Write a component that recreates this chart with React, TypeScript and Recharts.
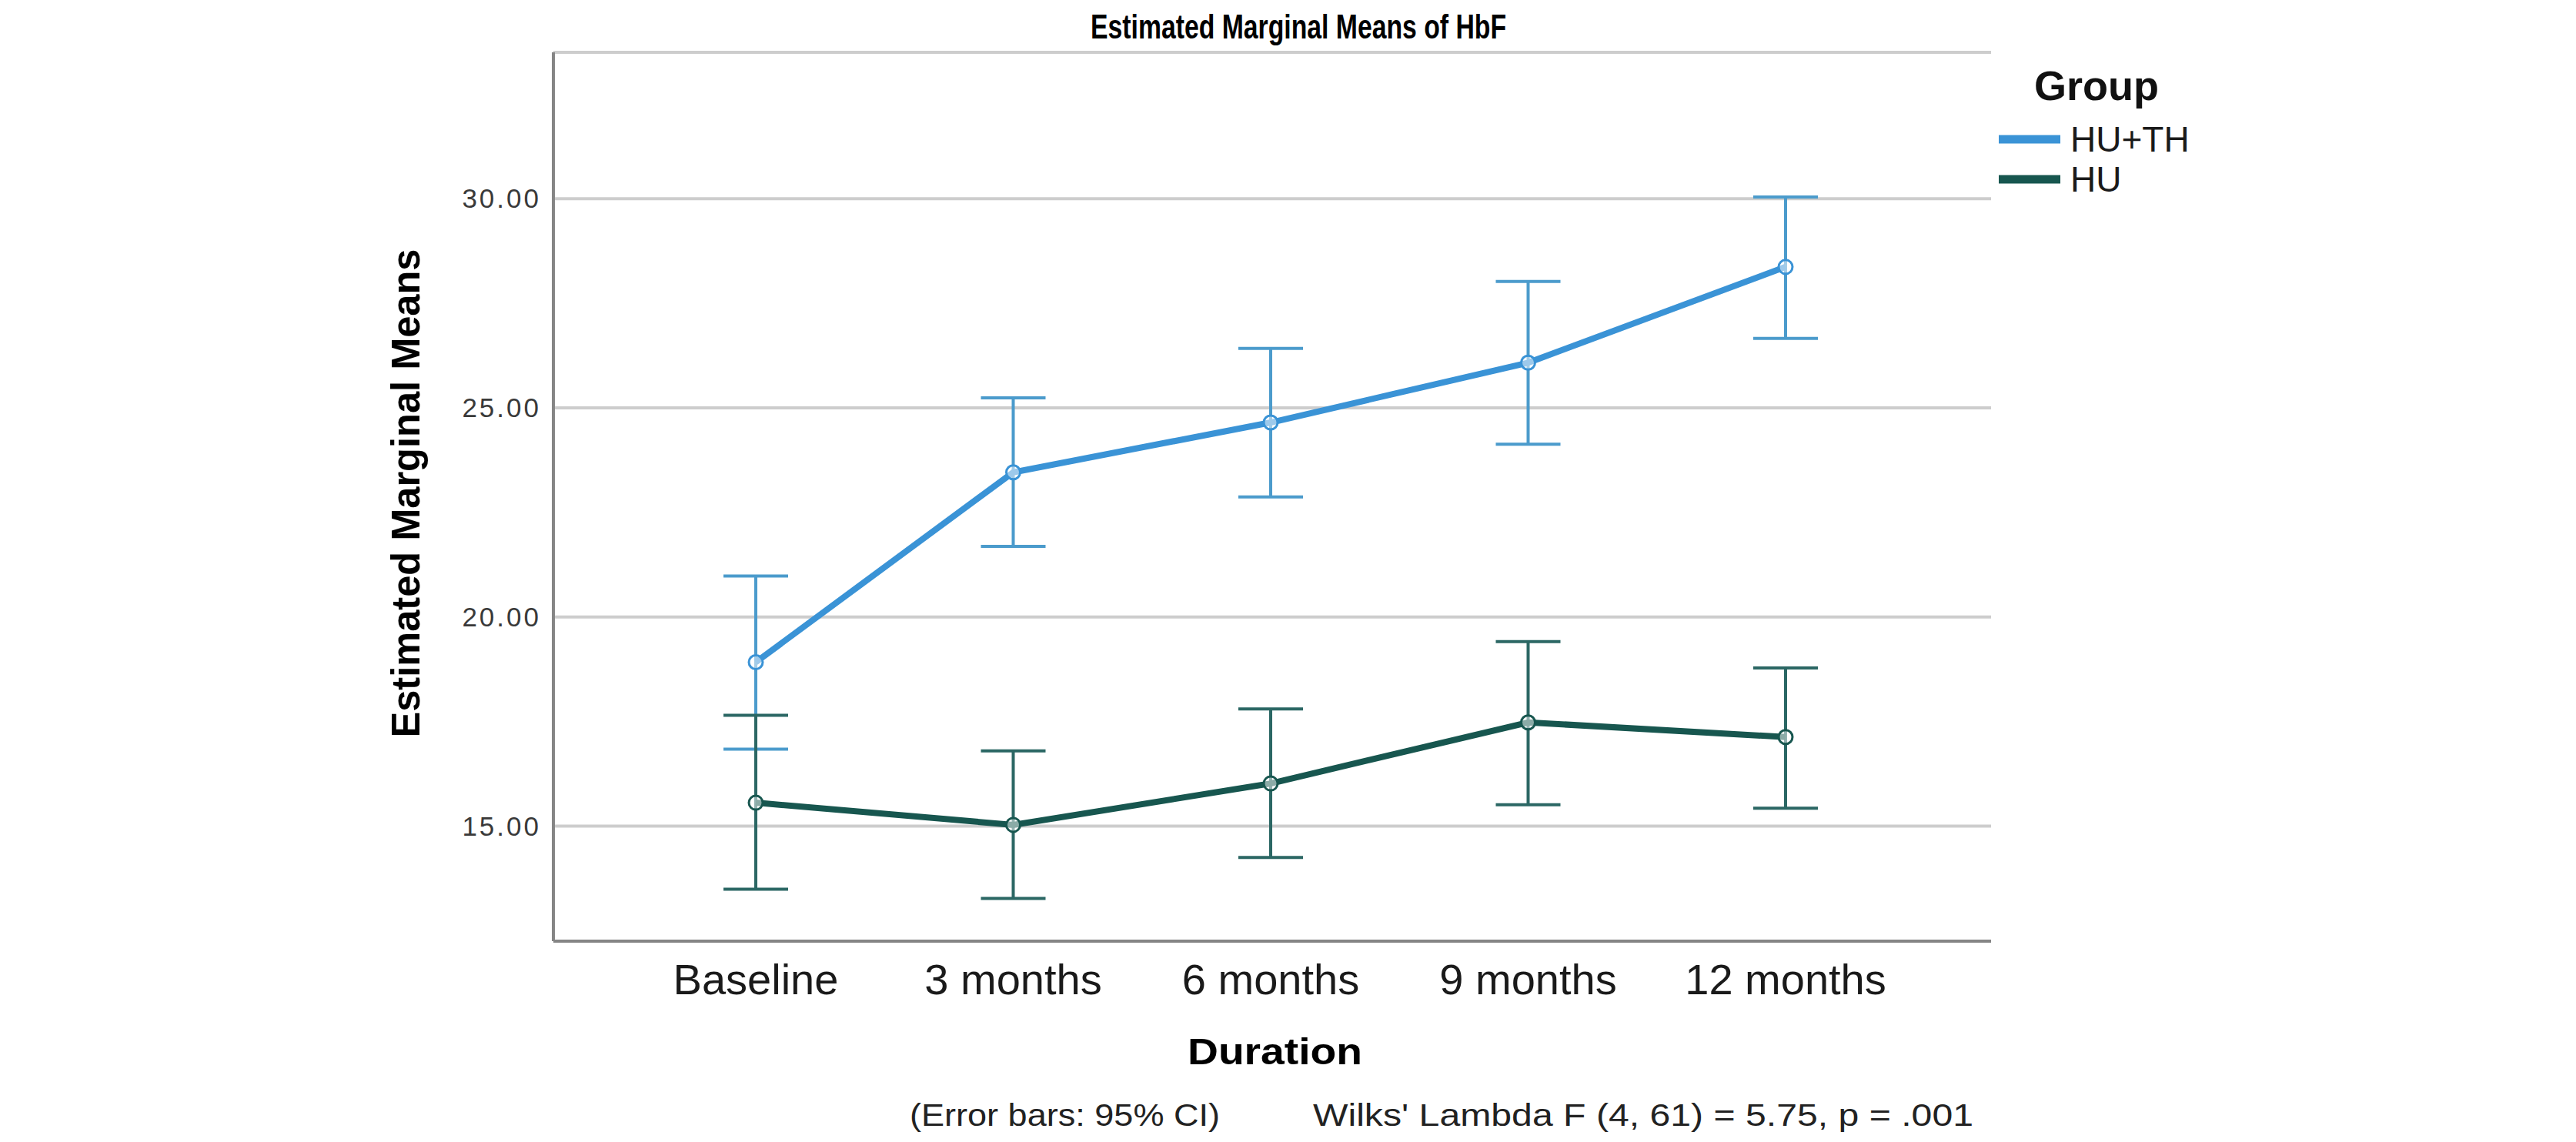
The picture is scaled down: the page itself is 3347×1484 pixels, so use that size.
import React from "react";
import {
  LineChart,
  Line,
  XAxis,
  YAxis,
  CartesianGrid,
  ErrorBar,
  Legend,
} from "recharts";

const categories = ["Baseline", "3 months", "6 months", "9 months", "12 months"];
const groups = ["HU+TH", "HU"];

const huthMean = [18.92, 23.46, 24.65, 26.08, 28.37];
const huthLower = [16.84, 21.69, 22.87, 24.13, 26.66];
const huthUpper = [20.98, 25.24, 26.42, 28.02, 30.04];

const huMean = [15.56, 15.03, 16.02, 17.48, 17.13];
const huLower = [13.49, 13.27, 14.25, 15.51, 15.43];
const huUpper = [17.65, 16.8, 17.8, 19.41, 18.78];

const yTicks = [15, 20, 25, 30];

const BLUE = "#3a93d6";
const BLUE_BAR = "#4b9bcc";
const TEAL = "#17564f";
const TEAL_BAR = "#2b6764";

const FONT = "'Liberation Sans', Arial, sans-serif";

const data = categories.map((c, i) => ({
  duration: c,
  huth: huthMean[i],
  huthErr: [huthMean[i] - huthLower[i], huthUpper[i] - huthMean[i]],
  hu: huMean[i],
  huErr: [huMean[i] - huLower[i], huUpper[i] - huMean[i]],
}));

const W = 3331;
const H = 1468;

function XTick(props: any) {
  const { x, y, payload } = props;
  return (
    <text
      x={x}
      y={y}
      dy={69}
      textAnchor="middle"
      fontFamily={FONT}
      fontSize={56}
      fill="#1a1a1a"
    >
      {payload.value}
    </text>
  );
}

function YTick(props: any) {
  const { x, y, payload } = props;
  return (
    <text
      x={x - 16}
      y={y}
      dy={12}
      textAnchor="end"
      fontFamily={FONT}
      fontSize={35}
      letterSpacing={3}
      fill="#3a3a3a"
    >
      {Number(payload.value).toFixed(2)}
    </text>
  );
}

function GroupLegend(props: any) {
  const raw = props.payload || [];
  const items = groups
    .map((g) => raw.find((it: any) => it.value === g))
    .filter(Boolean);
  return (
    <svg width={360} height={200} style={{ overflow: "visible" }}>
      <text x={75} y={62} fontFamily={FONT} fontWeight="bold" fontSize={54} fill="#111">
        Group
      </text>
      {items.map((it: any, i: number) => (
        <g key={it.value}>
          <line
            x1={29}
            x2={109}
            y1={113 + i * 52}
            y2={113 + i * 52}
            stroke={it.color}
            strokeWidth={11}
          />
          <text
            x={122}
            y={129 + i * 52}
            fontFamily={FONT}
            fontSize={46}
            fill="#1a1a1a"
          >
            {it.value}
          </text>
        </g>
      ))}
    </svg>
  );
}

export default function App() {
  return (
    <div style={{ position: "relative", width: W, height: H, background: "#fff" }}>
      <LineChart
        width={W}
        height={H}
        data={data}
        margin={{ top: 60, right: 752, bottom: 223, left: 591 }}
      >
        <CartesianGrid
          horizontal
          vertical={false}
          stroke="#cdcdcd"
          strokeWidth={4}
        />
        <XAxis
          dataKey="duration"
          padding={{ left: 263, right: 267 }}
          tickLine={false}
          tickSize={0}
          tickMargin={0}
          axisLine={{ stroke: "#858585", strokeWidth: 4 }}
          tick={<XTick />}
          interval={0}
        />
        <YAxis
          width={120}
          domain={[12.25, 33.5]}
          ticks={yTicks}
          allowDataOverflow
          tickLine={false}
          tickSize={0}
          tickMargin={0}
          axisLine={{ stroke: "#858585", strokeWidth: 4 }}
          tick={<YTick />}
        />
        <Legend
          layout="horizontal"
          verticalAlign="middle"
          align="center"
          wrapperStyle={{ left: 2560, top: 60, width: 360, height: 200 }}
          content={<GroupLegend />}
        />
        <Line
          name="HU+TH"
          dataKey="huth"
          stroke={BLUE}
          strokeWidth={8}
          isAnimationActive={false}
          dot={{ r: 9, fill: "#ffffff", fillOpacity: 0.5, stroke: BLUE, strokeWidth: 3 }}
        >
          <ErrorBar
            dataKey="huthErr"
            direction="y"
            width={42}
            stroke={BLUE_BAR}
            strokeWidth={4}
            isAnimationActive={false}
          />
        </Line>
        <Line
          name="HU"
          dataKey="hu"
          stroke={TEAL}
          strokeWidth={8}
          isAnimationActive={false}
          dot={{ r: 9, fill: "#ffffff", fillOpacity: 0.5, stroke: TEAL, strokeWidth: 3 }}
        >
          <ErrorBar
            dataKey="huErr"
            direction="y"
            width={42}
            stroke={TEAL_BAR}
            strokeWidth={4}
            isAnimationActive={false}
          />
        </Line>
      </LineChart>
      <svg
        width={W}
        height={H}
        style={{ position: "absolute", left: 0, top: 0, pointerEvents: "none" }}
      >
        <text
          x={1679}
          y={42}
          textAnchor="middle"
          fontFamily={FONT}
          fontWeight="bold"
          fontSize={44}
          textLength={540}
          lengthAdjust="spacingAndGlyphs"
          fill="#000"
        >
          Estimated Marginal Means of HbF
        </text>
        <text
          transform="translate(537,633) rotate(-90)"
          textAnchor="middle"
          fontFamily={FONT}
          fontWeight="bold"
          fontSize={52}
          textLength={635}
          lengthAdjust="spacingAndGlyphs"
          fill="#000"
        >
          Estimated Marginal Means
        </text>
        <text
          x={1535}
          y={1375}
          fontFamily={FONT}
          fontWeight="bold"
          fontSize={49}
          textLength={227}
          lengthAdjust="spacingAndGlyphs"
          fill="#000"
        >
          Duration
        </text>
        <text
          x={1174}
          y={1455}
          fontFamily={FONT}
          fontSize={40}
          textLength={403}
          lengthAdjust="spacingAndGlyphs"
          fill="#222"
        >
          (Error bars: 95% CI)
        </text>
        <text
          x={1698}
          y={1455}
          fontFamily={FONT}
          fontSize={40}
          textLength={858}
          lengthAdjust="spacingAndGlyphs"
          fill="#222"
        >
          Wilks' Lambda F (4, 61) = 5.75, p = .001
        </text>
      </svg>
    </div>
  );
}
